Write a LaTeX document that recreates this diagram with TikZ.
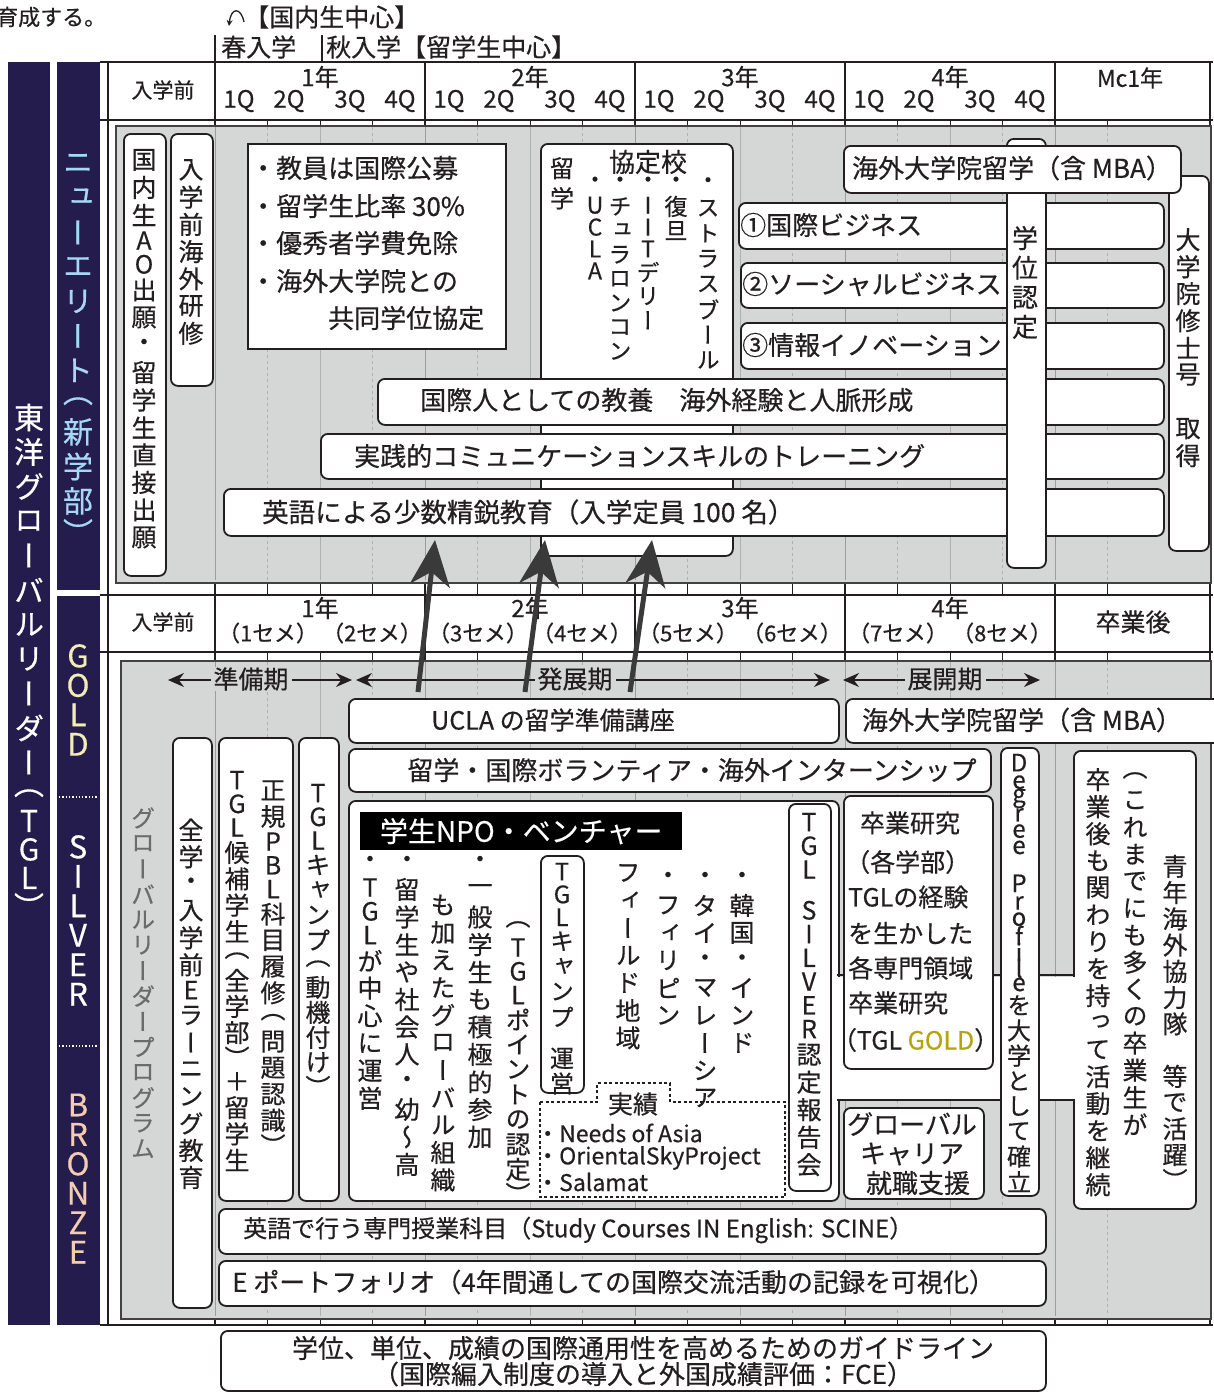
\documentclass[tikz,border=0pt]{standalone}
\usepackage{fontspec}
\setmainfont{Noto Sans CJK JP}[FakeBold=0.45]
\newfontfamily\vjp{Noto Sans CJK JP}[RawFeature=+vert,FakeBold=0.45]
\usetikzlibrary{arrows.meta}
\definecolor{ink}{HTML}{231F20}
\definecolor{navy}{HTML}{251C4E}
\definecolor{bg}{HTML}{D5D6D6}
\definecolor{gline}{HTML}{9C9C9C}
\definecolor{lblue}{HTML}{A5D8F3}
\definecolor{goldc}{HTML}{F1EDB4}
\definecolor{bronze}{HTML}{F3CDB0}
\definecolor{gtxt}{HTML}{6B6B6B}
\definecolor{goldtxt}{HTML}{B5A40F}
\definecolor{arrowc}{HTML}{3A3A3A}
\newcommand\fs[1]{\fontsize{#1}{#1}\selectfont}
\ExplSyntaxOn
\dim_new:N \l__vt_dim
\tl_new:N \l__vt_cjk_tl
\cs_new_protected:Npn \__vt_row:n #1
 {
  \tl_if_in:nnTF { （ ） } {#1}
   { \dim_set:Nn \l__vt_dim { 0.9em } }
   {
    \int_compare:nNnTF { `#1 } < { 128 }
     {
      \int_compare:nNnTF { `#1 } > { 96 }
       { \dim_set:Nn \l__vt_dim { 0.68em } }
       { \dim_set:Nn \l__vt_dim { 0.95em } }
     }
     { \dim_set:Nn \l__vt_dim { \l__vt_cjk_tl em } }
   }
  \hbox_to_wd:nn { 1em }
   { \hss \vbox_to_ht:nn { \l__vt_dim } { \vss \hbox:n {#1} \vss } \hss }
 }
\NewDocumentCommand \vt { O{1.05} m }
 {
  \tl_set:Nn \l__vt_cjk_tl {#1}
  \vtop
   {
    \offinterlineskip
    \tl_map_inline:nn {#2} { \__vt_row:n {##1} }
   }
 }
\ExplSyntaxOff
\newcommand\RB[6][]{\node[rb,minimum width={(#4-#2)*1pt},minimum height={(#5-#3)*1pt},#1] (#6) at (#2,#3) {};}
\begin{document}
\begin{tikzpicture}[x=1pt,y=-1pt,
 rb/.style={draw=ink,line width=1.8pt,fill=white,rounded corners=7pt,inner sep=0pt,anchor=north west},
 tx/.style={inner sep=0pt,text=ink},
 vx/.style={inner sep=0pt,text=ink,anchor=north},
 blk/.style={inner sep=0pt,anchor=north west},
 big/.style={draw=arrowc,line width=5pt,-{Stealth[length=46pt,width=40pt,inset=14pt]}},
 ph/.style={draw=ink,line width=1.6pt,{Stealth[length=16pt,width=14pt]}-{Stealth[length=16pt,width=14pt]}}]
\useasboundingbox (0,0) rectangle (1213,1392);
\fill[white] (0,0) rectangle (1213,1392);
% ---------- top notes
\node[tx,anchor=west,font=\fs{22}] (t0) at (-4,17) {育成する。};
\node[tx,anchor=west,font=\fs{25}] (t1) at (244,17) {【国内生中心】};
\draw[ink,line width=1.3pt,-{Stealth[length=6pt,width=6pt]}] (244,22) .. controls (241,7) and (231,7) .. (229,26);
\node[tx,anchor=west,font=\fs{25}] (t2) at (221,47) {春入学};
\node[tx,anchor=west,font=\fs{25}] (t3) at (326,47) {秋入学【留学生中心】};
\draw[ink,line width=1.3pt] (215,35) -- (215,62) (322,35) -- (322,62);
% ---------- navy columns
\node[blk,fill=navy,minimum width=42pt,minimum height=1263pt] (nav1) at (8,62) {};
\node[blk,fill=navy,minimum width=43pt,minimum height=528pt] (nav2a) at (57,62) {};
\node[blk,fill=navy,minimum width=43pt,minimum height=729pt] (nav2b) at (57,596) {};
\draw[white,line width=1.3pt,dotted] (59,797) -- (98,797) (59,1046) -- (98,1046);
\node[vx,text=white,font=\vjp\fs{30}] (tgl) at (29,400) {\vt[1.15]{東洋グローバルリーダー（TGL）}};
\node[vx,text=lblue,font=\vjp\fs{30}] (ne) at (78,146) {\vt[1.15]{ニューエリート（新学部）}};
\node[vx,text=goldc,font=\vjp\fs{31}] (gold) at (78,641) {\vt{GOLD}};
\node[vx,text=white,font=\vjp\fs{31}] (silv) at (78,832) {\vt{SILVER}};
\node[vx,text=bronze,font=\vjp\fs{31}] (bron) at (78,1090) {\vt{BRONZE}};
% ---------- grid
\foreach \x in {108,215,425,635,845,1055,1210} \draw[ink,line width=1.3pt] (\x,62) -- (\x,1325);
\foreach \y in {62,120,595,652,1325} \draw[ink,line width=1.5pt] (100,\y) -- (1213,\y);
\foreach \x in {267.5,320,372.5,477.5,530,582.5,687.5,740,792.5,897.5,950,1002.5,1107.5}
 {\draw[ink,line width=0.6pt] (\x,120) -- (\x,595); \draw[ink,line width=0.6pt] (\x,652) -- (\x,1325);}
\node[blk,fill=bg,draw=ink!85,line width=1.5pt,minimum width=1095pt,minimum height=457pt] (gU) at (115,125) {};
\node[blk,fill=bg,draw=ink!85,line width=1.5pt,minimum width=1090pt,minimum height=658pt] (gL) at (120,660) {};
\foreach \x in {215,425,635,845,1055}
 {\draw[gline,line width=0.9pt] (\x,127) -- (\x,580); \draw[gline,line width=0.9pt] (\x,662) -- (\x,1316);}
\foreach \x in {320,530,740,950}
 {\draw[gline!80,line width=0.6pt] (\x,127) -- (\x,580); \draw[gline!80,line width=0.6pt] (\x,662) -- (\x,1316);}
\foreach \x in {267.5,372.5,477.5,582.5,687.5,792.5,897.5,1002.5,1107.5}
 {\draw[gline!80,line width=0.6pt,dashed] (\x,127) -- (\x,580); \draw[gline!80,line width=0.6pt,dashed] (\x,662) -- (\x,1316);}
% ---------- headers
\node[tx,font=\fs{21}] (h0) at (163,90) {入学前};
\node[tx,font=\fs{23}] (hm) at (1130,78) {Mc1年};
\node[tx,font=\fs{21}] (h2) at (163,622) {入学前};
\node[tx,font=\fs{25}] (hg) at (1133,622) {卒業後};
\foreach \i in {1,2,3,4}{
 \pgfmathsetmacro\xc{320+210*(\i-1)}
 \pgfmathtruncatemacro\sa{2*\i-1}
 \pgfmathtruncatemacro\sb{2*\i}
 \node[tx,font=\fs{24}] (yr\i) at (\xc,77) {\i 年};
 \node[tx,font=\fs{24}] (qa\i) at (\xc-81,101) {1Q};
 \node[tx,font=\fs{24}] (qb\i) at (\xc-31,101) {2Q};
 \node[tx,font=\fs{24}] (qc\i) at (\xc+30,101) {3Q};
 \node[tx,font=\fs{24}] (qd\i) at (\xc+80,101) {4Q};
 \node[tx,font=\fs{24}] (ys\i) at (\xc,608) {\i 年};
 \node[tx,font=\fs{22}] (sa\i) at (\xc-52,633) {（\sa セメ）};
 \node[tx,font=\fs{22}] (sb\i) at (\xc+52,633) {（\sb セメ）};
}
% ---------- upper region
\RB{123}{133}{165}{575}{bAO}
\node[vx,font=\vjp\fs{25}] (tAO) at (144,146) {\vt[1.1]{国内生AO出願・留学生直接出願}};
\RB{170}{133}{212}{385}{bPre}
\node[vx,font=\vjp\fs{25}] (tPre) at (191,156) {\vt[1.09]{入学前海外研修}};
\RB[sharp corners]{247}{143}{505}{348}{bSq}
\node[tx,anchor=west,font=\fs{26}] (s1) at (250,168) {・教員は国際公募};
\node[tx,anchor=west,font=\fs{26}] (s2) at (250,206) {・留学生比率 30\%};
\node[tx,anchor=west,font=\fs{26}] (s3) at (250,243) {・優秀者学費免除};
\node[tx,anchor=west,font=\fs{26}] (s4) at (250,281) {・海外大学院との};
\node[tx,anchor=west,font=\fs{26}] (s5) at (328,318) {共同学位協定};
\RB{540}{143}{732}{555}{bKyo}
\node[vx,font=\vjp\fs{24}] (kR) at (562,153) {\vt[1.25]{留学}};
\node[tx,font=\fs{26}] (kH) at (648,162) {協定校};
\node[vx,font=\vjp\fs{23}] (k1) at (595,170) {\vt{・UCLA}};
\node[vx,font=\vjp\fs{23}] (k2) at (620,170) {\vt{・チュラロンコン}};
\node[vx,font=\vjp\fs{23}] (k3) at (648,170) {\vt{・IITデリー}};
\node[vx,font=\vjp\fs{23}] (k4) at (676,170) {\vt{・復旦}};
\node[vx,font=\vjp\fs{23}] (k5) at (708,170) {\vt[1.1]{・ストラスブール}};
\RB{1168}{175}{1208}{550}{bGS}
\node[vx,font=\vjp\fs{25}] (tGS) at (1188,226) {\vt[1.08]{大学院修士号　取得}};
\RB{738}{202}{1163}{248}{b1}
\node[tx,anchor=west,font=\fs{26}] (t1b) at (740,225) {①国際ビジネス};
\RB{740}{262}{1163}{307}{b2}
\node[tx,anchor=west,font=\fs{26}] (t2b) at (742,284) {②ソーシャルビジネス};
\RB{740}{322}{1163}{368}{b3}
\node[tx,anchor=west,font=\fs{26}] (t3b) at (742,345) {③情報イノベーション};
\RB{377}{378}{1163}{424}{b4}
\node[tx,anchor=west,font=\fs{26}] (t4b) at (420,400) {国際人としての教養　海外経験と人脈形成};
\RB{320}{433}{1163}{478}{b5}
\node[tx,anchor=west,font=\fs{26}] (t5b) at (354,456) {実践的コミュニケーションスキルのトレーニング};
\RB{223}{488}{1163}{535}{b6}
\node[tx,anchor=west,font=\fs{26.5}] (t6b) at (262,512) {英語による少数精鋭教育（入学定員 100 名）};
\RB{1006}{138}{1045}{567}{bDeg}
\node[vx,font=\vjp\fs{26}] (tDeg) at (1025,223) {\vt[1.14]{学位認定}};
\RB{843}{145}{1180}{192}{bOS1}
\node[tx,font=\fs{26}] (tOS1) at (1012,168) {海外大学院留学（含 MBA）};
% ---------- lower region
\coordinate (p1a) at (168,680); \coordinate (p1b) at (352,680);
\coordinate (p2a) at (356,680); \coordinate (p2b) at (830,680);
\coordinate (p3a) at (843,680); \coordinate (p3b) at (1040,680);
\draw[ph] (p1a) -- (p1b);
\draw[ph] (p2a) -- (p2b);
\draw[ph] (p3a) -- (p3b);
\node[tx,fill=bg,inner xsep=3pt,font=\fs{25}] (pp1) at (251,679) {準備期};
\node[tx,fill=bg,inner xsep=3pt,font=\fs{25}] (pp2) at (575,679) {発展期};
\node[tx,fill=bg,inner xsep=3pt,font=\fs{25}] (pp3) at (945,679) {展開期};
\RB{348}{698}{838}{742}{bU}
\node[tx,font=\fs{25}] (tU) at (553,720) {UCLA の留学準備講座};
\RB{845}{698}{1220}{742}{bOS2}
\node[tx,font=\fs{26}] (tOS2) at (1022,720) {海外大学院留学（含 MBA）};
\RB{348}{748}{990}{791}{bV}
\node[tx,font=\fs{26}] (tV) at (692,770) {留学・国際ボランティア・海外インターンシップ};
\node[vx,text=gtxt,font=\vjp\fs{24}] (tGLP) at (143,805) {\vt[1.06]{グローバルリーダープログラム}};
\RB{172}{737}{211}{1307}{bE}
\node[vx,font=\vjp\fs{25}] (tE) at (191,816) {\vt[1.08]{全学・入学前Eラーニング教育}};
\RB{218}{737}{292}{1200}{bPBL}
\node[vx,font=\vjp\fs{25}] (tPBL1) at (273,777) {\vt{正規PBL科目履修（問題認識）}};
\node[vx,font=\vjp\fs{25}] (tPBL2) at (237,768) {\vt{TGL候補学生（全学部）＋留学生}};
\RB{298}{737}{338}{1200}{bCamp}
\node[vx,font=\vjp\fs{25}] (tCamp) at (318,781) {\vt[1.0]{TGLキャンプ（動機付け）}};
\RB{1073}{750}{1195}{1208}{bR}
\RB{348}{800}{838}{1200}{bNPO}
\fill[white] (836,976.5) rectangle (1076,1098.5);
\draw[ink,line width=1.8pt] (837,975) -- (1074,975) (837,1100) -- (1074,1100);
\node[blk,fill=black,text=white,minimum width=322pt,minimum height=38pt,font=\fs{28}] (npoT) at (360,812) {学生NPO・ベンチャー};
\node[vx,font=\vjp\fs{25}] (c1) at (370,848) {\vt[1.1]{・TGLが中心に運営}};
\node[vx,font=\vjp\fs{25}] (c2) at (407,848) {\vt[1.1]{・留学生や社会人・幼〜高}};
\node[vx,font=\vjp\fs{25}] (c3) at (480,848) {\vt[1.1]{・一般学生も積極的参加}};
\node[vx,font=\vjp\fs{25}] (c4) at (443,891) {\vt[1.1]{も加えたグローバル組織}};
\node[vx,font=\vjp\fs{25}] (c5) at (518,913) {\vt[1.0]{（TGLポイントの認定）}};
\RB{540}{855}{583}{1092}{bCamp2}
\node[vx,font=\vjp\fs{24}] (c6) at (562,860) {\vt{TGLキャンプ~運営}};
\node[vx,font=\vjp\fs{25}] (c7) at (628,859) {\vt[1.1]{フィールド地域}};
\node[vx,font=\vjp\fs{25}] (c8) at (668,864) {\vt[1.1]{・フィリピン}};
\node[vx,font=\vjp\fs{25}] (c9) at (705,864) {\vt[1.1]{・タイ・マレーシア}};
\node[vx,font=\vjp\fs{25}] (c10) at (742,864) {\vt[1.1]{・韓国・インド}};
\draw[ink,line width=1.4pt,dash pattern=on 3pt off 2.5pt] (540,1102) -- (597,1102) -- (597,1083) -- (670,1083) -- (670,1102) -- (785,1102) -- (785,1197) -- (540,1197) -- cycle;
\node[tx,font=\fs{25}] (jis) at (633,1104) {実績};
\node[tx,anchor=west,font=\fs{23}] (n1) at (536,1133) {・Needs of Asia};
\node[tx,anchor=west,font=\fs{23}] (n2) at (536,1158) {・OrientalSkyProject};
\node[tx,anchor=west,font=\fs{23}] (n3) at (536,1182) {・Salamat};
\RB{788}{803}{830}{1190}{bSil}
\node[vx,font=\vjp\fs{25}] (tSil) at (809,810) {\vt[1.1]{TGL~SILVER認定報告会}};
\RB{843}{795}{992}{1068}{bGR}
\node[tx,font=\fs{25}] (g1) at (910,823) {卒業研究};
\node[tx,anchor=west,font=\fs{25}] (g2) at (845,862) {（各学部）};
\node[tx,anchor=west,font=\fs{25}] (g3) at (848,897) {TGLの経験};
\node[tx,anchor=west,font=\fs{25}] (g4) at (848,933) {を生かした};
\node[tx,anchor=west,font=\fs{25}] (g5) at (848,968) {各専門領域};
\node[tx,anchor=west,font=\fs{25}] (g6) at (848,1003) {卒業研究};
\node[tx,anchor=west,font=\fs{25}] (g7) at (843,1040) {\makebox[0.55em][r]{（}TGL \textcolor{goldtxt}{GOLD}\makebox[0.55em][l]{）}};
\RB{843}{1107}{983}{1198}{bCar}
\node[tx,font=\fs{26}] (cr1) at (912,1124) {グローバル};
\node[tx,font=\fs{26}] (cr2) at (912,1154) {キャリア};
\node[tx,font=\fs{26}] (cr3) at (918,1183) {就職支援};
\RB{1000}{747}{1038}{1195}{bDP}
\node[vx,font=\vjp\fs{24}] (tDP) at (1019,751) {\vt{Degree~Profileを大学として確立}};
\node[vx,font=\vjp\fs{25}] (r1) at (1175,853) {\vt{青年海外協力隊　等で活躍）}};
\node[vx,font=\vjp\fs{25}] (r2) at (1135,764) {\vt[1.08]{（これまでにも多くの卒業生が}};
\node[vx,font=\vjp\fs{25}] (r3) at (1098,766) {\vt[1.08]{卒業後も関わりを持って活動を継続}};
\RB{218}{1208}{1045}{1253}{bSC}
\node[tx,anchor=west,font=\fs{24}] (tSC) at (243,1230) {英語で行う専門授業科目（Study Courses IN English: SCINE）};
\RB{218}{1260}{1045}{1305}{bEP}
\node[tx,anchor=west,font=\fs{26}] (tEP) at (232,1282) {E ポートフォリオ（4年間通しての国際交流活動の記録を可視化）};
\RB{220}{1330}{1045}{1390}{bBot}
\node[tx,font=\fs{26}] (tb1) at (643,1348) {学位、単位、成績の国際通用性を高めるためのガイドライン};
\node[tx,font=\fs{26}] (tb2) at (643,1374) {（国際編入制度の導入と外国成績評価：FCE）};
% ---------- big arrows
\coordinate (A1s) at (418,692); \coordinate (A1e) at (435,540);
\coordinate (A2s) at (525,692); \coordinate (A2e) at (545,540);
\coordinate (A3s) at (630,692); \coordinate (A3e) at (652,540);
\draw[big] (A1s) -- (A1e);
\draw[big] (A2s) -- (A2e);
\draw[big] (A3s) -- (A3e);
\end{tikzpicture}
\end{document}
